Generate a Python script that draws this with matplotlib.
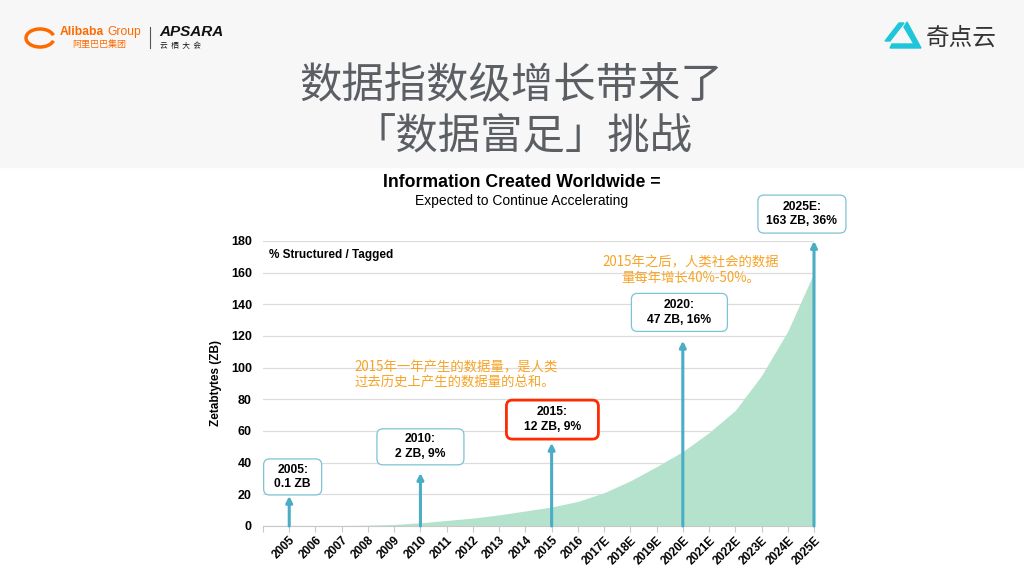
import numpy as np
import matplotlib
matplotlib.use('Agg')
import matplotlib.pyplot as plt
from matplotlib.patches import Rectangle, Polygon, Arc, FancyBboxPatch
from matplotlib.lines import Line2D

plt.rcParams['font.family'] = ['Liberation Sans', 'Noto Sans CJK SC', 'DejaVu Sans']
CJK = ['Noto Sans CJK SC', 'DejaVu Sans']

# data (ZB per year)
years = ['2005', '2006', '2007', '2008', '2009', '2010', '2011', '2012', '2013', '2014',
         '2015', '2016', '2017E', '2018E', '2019E', '2020E', '2021E', '2022E', '2023E',
         '2024E', '2025E']
zb = [0.1, 0.2, 0.3, 0.5, 1.0, 2.0, 3.5, 5.0, 7.0, 9.5,
      12.0, 15.5, 21.0, 28.5, 37.5, 47.0, 59.0, 73.0, 95.0, 123.0, 160.0]

callout_years = ['2005', '2010', '2015', '2020E', '2025E']
callout_text = ['2005:\n0.1 ZB', '2010:\n2 ZB, 9%', '2015:\n12 ZB, 9%',
                '2020:\n47 ZB, 16%', '2025E:\n163 ZB, 36%']
arrow_top = [19, 33.5, 52.5, 117, 180]
# box centre (data units) and box size (pixels)
box_xy = [(0.13, 31.0), (5.0, 50.0), (10.03, 67.2), (14.87, 134.9), (19.54, 197.0)]
box_wh = [(58, 36), (87, 36), (92, 39), (96, 38), (88, 38)]

note1 = '2015年一年产生的数据量，是人类\n过去历史上产生的数据量的总和。'
note2 = '2015年之后，人类社会的数据\n量每年增长40%-50%。'

W, H = 1024, 576
fig = plt.figure(figsize=(W/100, H/100), dpi=100)

def fx(px):
    return px/W

def fy(py):
    return 1 - py/H

# header band
fig.patches.append(Rectangle((0, fy(167)), 1, 167/H, transform=fig.transFigure,
                             color='#f7f7f7', zorder=0))

# main title
title_col = '#5b5f64'
fig.text(fx(511), fy(86), '数据指数级增长带来了', family=CJK, fontsize=30.5,
         color=title_col, ha='center', va='center', fontweight='light')
fig.text(fx(523), fy(137), '「数据富足」挑战', family=CJK, fontsize=30.5,
         color=title_col, ha='center', va='center', fontweight='light')

# left logo
orange = '#ff6a00'
fig.patches.append(Arc((fx(40), fy(38)), 28/W, 18/H, theta1=20, theta2=340,
                       transform=fig.transFigure, color=orange, lw=2.5))
fig.text(fx(60), fy(32), 'Alibaba', fontsize=8.7, fontweight='bold', color=orange,
         ha='left', va='center')
fig.text(fx(107), fy(32), 'Group', fontsize=8.7, color=orange, ha='left', va='center')
fig.text(fx(72), fy(44), '阿里巴巴集团', family=CJK, fontsize=6.5, color=orange,
         ha='left', va='center')
fig.lines.append(Line2D([fx(150), fx(150)], [fy(27), fy(48)], transform=fig.transFigure,
                        color='#555555', lw=0.8))
fig.text(fx(159), fy(32), 'APSARA', fontsize=11, fontweight='bold', style='italic',
         color='#111111', ha='left', va='center')
fig.text(fx(160), fy(46), '云  栖  大  会', family=CJK, fontsize=5.5, color='#111111',
         ha='left', va='center')

# right logo
cyan = '#1fc6d9'
fig.patches.append(Polygon([(fx(885), fy(41)), (fx(899), fy(23)), (fx(904), fy(23)),
                            (fx(890), fy(41))],
                           closed=True, transform=fig.transFigure, color=cyan))
fig.patches.append(Polygon([(fx(904), fy(27)), (fx(907), fy(22)), (fx(921), fy(48)),
                            (fx(890), fy(48)), (fx(892), fy(44)), (fx(914), fy(44))],
                           closed=True, transform=fig.transFigure, color=cyan))
fig.text(fx(926), fy(38), '奇点云', family=CJK, fontsize=17, color='#333333',
         ha='left', va='center')

# chart
ax = fig.add_axes([fx(263), fy(526), (814-263)/W, (526-241)/H])
x = np.arange(len(years))
ax.fill_between(x, zb, 0, color='#b4e2cc', linewidth=0, zorder=2)

ax.set_xlim(-1, len(years)-1)
ax.set_ylim(0, 180)
ax.set_yticks(np.arange(0, 181, 20))
ax.set_xticks(np.arange(-1, len(years)))
ax.set_xticklabels([''] + years, rotation=45, ha='right', rotation_mode='anchor',
                   fontsize=8.5, fontweight='bold')
for lab in ax.get_yticklabels():
    lab.set_fontweight('bold')
    lab.set_fontsize(9)
ax.tick_params(axis='y', length=0, pad=8)
ax.tick_params(axis='x', length=4, color='#c8c8c8', pad=2)
ax.grid(axis='y', color='#dcdcdc', lw=0.9, zorder=0)
ax.set_axisbelow(True)
for s in ['top', 'right', 'left']:
    ax.spines[s].set_visible(False)
ax.spines['bottom'].set_color('#c8c8c8')

ax.set_ylabel('Zetabtytes (ZB)', fontsize=8.5, fontweight='bold', labelpad=6)

# arrows and callouts
arrow_col = '#4bacc6'
inch = fig.dpi_scale_trans
for yr, top, txt, (bx, by), (bw, bh) in zip(callout_years, arrow_top, callout_text,
                                            box_xy, box_wh):
    i = years.index(yr)
    ax.annotate('', xy=(i, top), xytext=(i, 0),
                arrowprops=dict(arrowstyle='-|>', color=arrow_col, lw=2.2,
                                mutation_scale=9, shrinkA=0, shrinkB=0),
                zorder=4, annotation_clip=False)
    cx, cy = inch.inverted().transform(ax.transData.transform((bx, by)))
    w, h = bw/100, bh/100
    if yr == '2015':
        ec, lw = '#ff2a00', 2.0
    else:
        ec, lw = '#7cc3d3', 0.9
    box = FancyBboxPatch((cx - w/2, cy - h/2), w, h,
                         boxstyle='round,pad=0,rounding_size=0.06',
                         transform=inch, fc='white', ec=ec, lw=lw, zorder=5,
                         clip_on=False)
    ax.add_patch(box)
    ax.text(bx, by, txt, fontsize=8.7, fontweight='bold', ha='center', va='center',
            linespacing=1.3, zorder=6, clip_on=False)

note_col = '#f7a325'
ax.text(2.5, 95.3, note1, family=CJK, fontsize=9.6, color=note_col, ha='left',
        va='center', linespacing=1.15, zorder=5)
ax.text(15.3, 161.8, note2, family=CJK, fontsize=9.6, color=note_col, ha='center',
        va='center', linespacing=1.15, zorder=5)

ax.text(0.01, 0.95, '% Structured / Tagged', transform=ax.transAxes, fontsize=8.5,
        fontweight='bold', ha='left', va='center')

fig.text(fx(522), fy(183), 'Information Created Worldwide =', fontsize=12.7,
         fontweight='bold', ha='center', va='center')
fig.text(fx(522), fy(201), 'Expected to Continue Accelerating', fontsize=10,
         ha='center', va='center')

plt.savefig('out.png', dpi=100)
